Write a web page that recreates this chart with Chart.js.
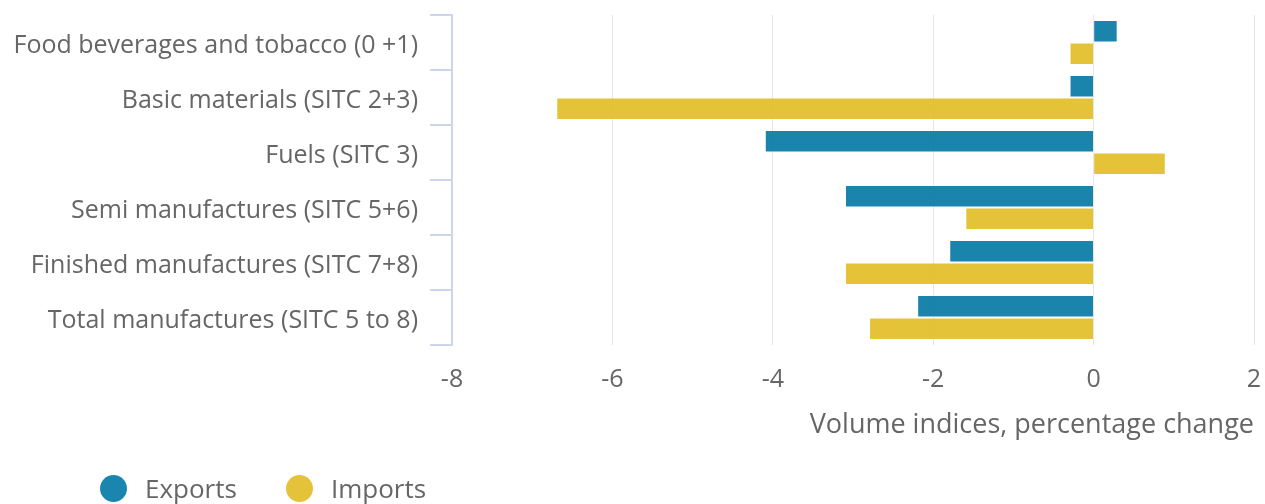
<!DOCTYPE html>
<html>
<head>
<meta charset="utf-8">
<script src="https://cdn.jsdelivr.net/npm/chart.js@4.4.1/dist/chart.umd.min.js"></script>
<style>
  html, body { margin: 0; padding: 0; background: #fff; overflow: hidden; }
  .wrap { position: relative; width: 1265px; height: 504px; }
  .legend {
    position: absolute; left: 100px; top: 470px;
    display: flex; align-items: center; gap: 49px;
    font-family: "Open Sans", sans-serif; font-size: 26px; color: #666;
  }
  .legend .item { display: flex; align-items: center; gap: 18px; }
  .legend .dot { width: 27px; height: 27px; border-radius: 50%; display: inline-block; }
</style>
</head>
<body>
<div class="wrap">
  <canvas id="c" width="1265" height="504"></canvas>
  <div class="legend" id="legend"></div>
</div>
<script>
const categories = [
  'Food beverages and tobacco (0 +1)',
  'Basic materials (SITC 2+3)',
  'Fuels (SITC 3)',
  'Semi manufactures (SITC 5+6)',
  'Finished manufactures (SITC 7+8)',
  'Total manufactures (SITC 5 to 8)'
];
const exportsData = [0.3, -0.3, -4.1, -3.1, -1.8, -2.2];
const importsData = [-0.3, -6.7, 0.9, -1.6, -3.1, -2.8];
const xTicks = [-8, -6, -4, -2, 0, 2];

const seriesNames = ['Exports', 'Imports'];
const seriesColors = ['rgba(6,122,166,0.92)', 'rgba(226,190,40,0.92)'];
const legendColors = ['#1a85ae', '#e4c33a'];

const FONT = '"Open Sans", sans-serif';
const txt = '#666666';

new Chart(document.getElementById('c'), {
  type: 'bar',
  data: {
    labels: categories,
    datasets: [
      { label: seriesNames[0], data: exportsData, backgroundColor: seriesColors[0], borderColor: 'rgba(255,255,255,0.4)', borderWidth: 1, categoryPercentage: 0.82, barPercentage: 1 },
      { label: seriesNames[1], data: importsData, backgroundColor: seriesColors[1], borderColor: 'rgba(255,255,255,0.4)', borderWidth: 1, categoryPercentage: 0.82, barPercentage: 1 }
    ]
  },
  options: {
    indexAxis: 'y',
    responsive: false,
    animation: false,
    layout: { padding: { top: 15, right: 11, bottom: 0, left: 0 } },
    plugins: { legend: { display: false }, tooltip: { enabled: false } },
    scales: {
      x: {
        min: -8, max: 2,
        afterBuildTicks: s => { s.ticks = xTicks.map(v => ({ value: v })); },
        // fixed axis height, and no extra room for the end labels
        afterFit: s => { s.height = 159; s.paddingLeft = 0; s.paddingRight = 0; },
        grid: { color: '#e6e6e6', lineWidth: 1, drawTicks: false },
        border: { display: false },
        ticks: { color: txt, font: { family: FONT, size: 25 }, padding: 20 },
        title: {
          display: true, align: 'end', text: 'Volume indices, percentage change',
          color: txt, font: { family: FONT, size: 27 }, padding: { top: 0, bottom: 62 }
        }
      },
      y: {
        afterFit: s => { s.width = 452; s.paddingTop = 0; s.paddingBottom = 0; },
        grid: { color: '#ccd6eb', lineWidth: 2, drawOnChartArea: false, drawTicks: true, tickLength: 22, offset: true },
        border: { color: '#ccd6eb', width: 2 },
        ticks: { color: txt, font: { family: FONT, size: 25 }, padding: 12, labelOffset: 3 }
      }
    }
  }
});

document.getElementById('legend').innerHTML = seriesNames.map((n, i) =>
  `<span class="item"><span class="dot" style="background:${legendColors[i]}"></span>${n}</span>`
).join('');
</script>
</body>
</html>
